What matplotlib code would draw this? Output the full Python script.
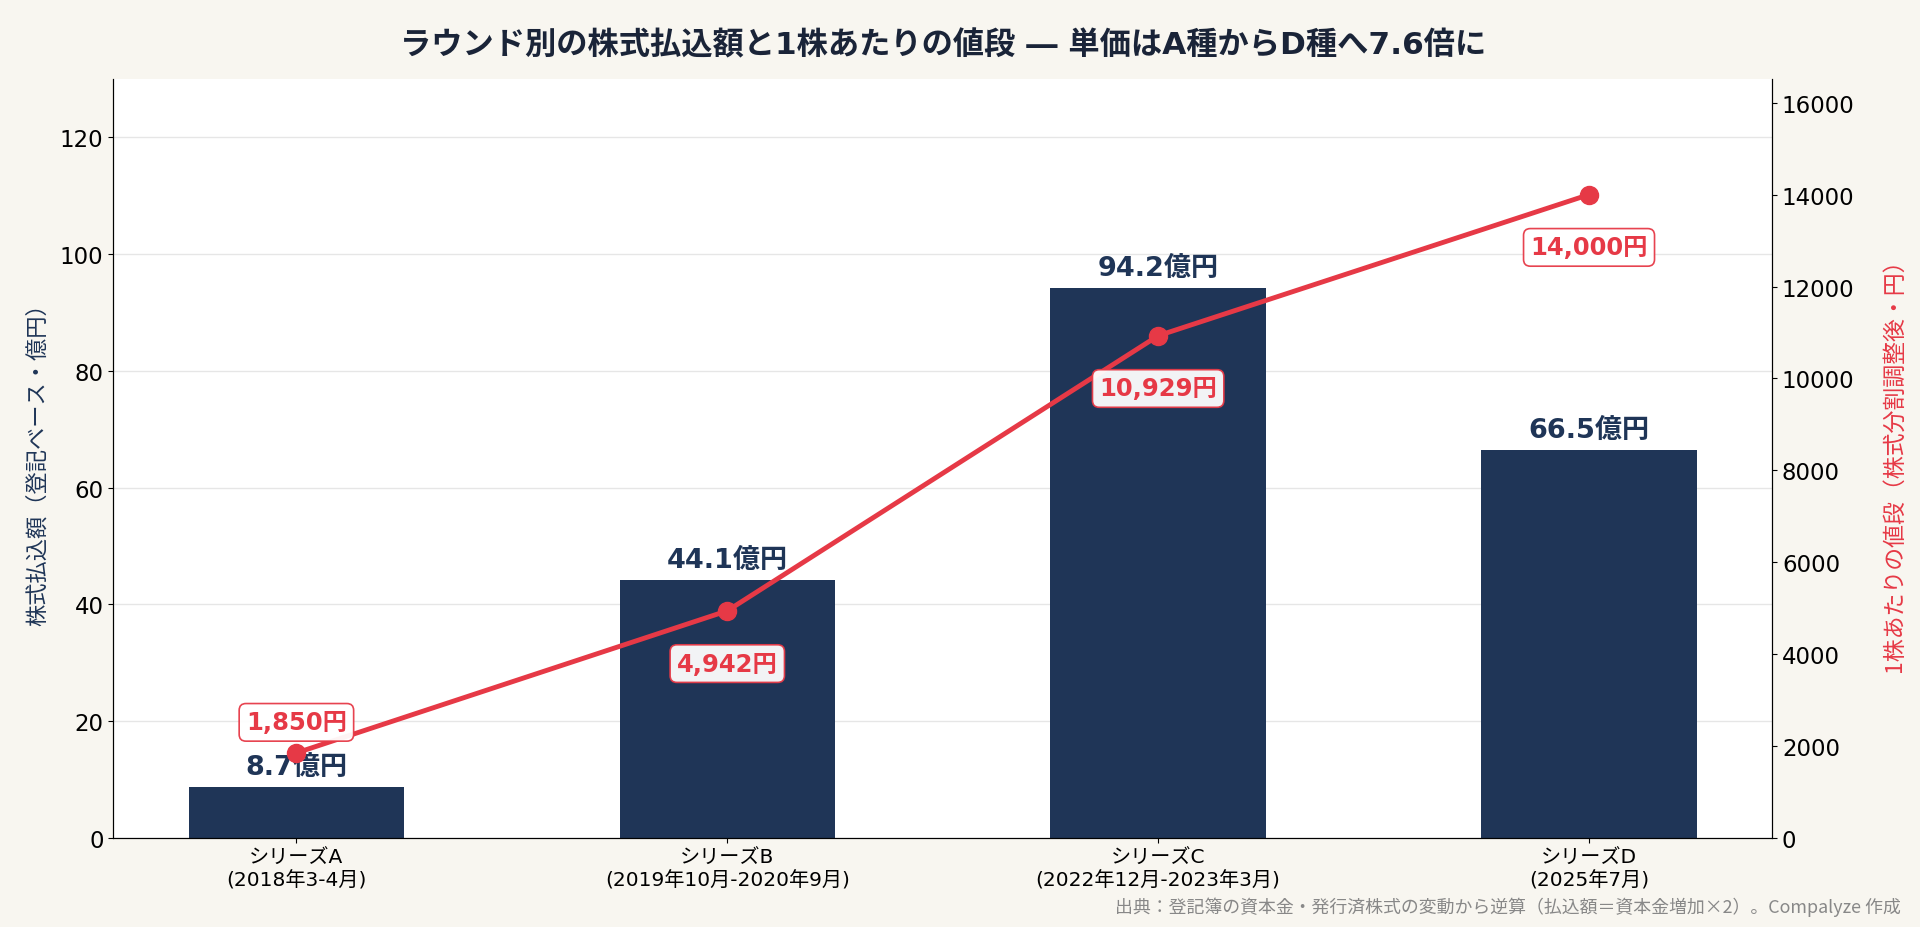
import matplotlib
matplotlib.use('Agg')
import matplotlib.pyplot as plt
import numpy as np

# wide Latin digits first, CJK glyphs fall back to Noto
plt.rcParams['font.family'] = ['DejaVu Sans', 'Noto Sans CJK JP']

ROUNDS = ['シリーズA\n(2018年3-4月)', 'シリーズB\n(2019年10月-2020年9月)',
          'シリーズC\n(2022年12月-2023年3月)', 'シリーズD\n(2025年7月)']
AMOUNTS = [8.7, 44.1, 94.2, 66.5]          # 億円
PRICES = [1850, 4942, 10929, 14000]        # 円 (分割調整後)

NAVY = '#1f3557'
RED = '#e63946'
BG = '#f8f6f0'

fig, ax = plt.subplots(figsize=(19.2, 9.28), dpi=100)
fig.patch.set_facecolor(BG)
ax.set_facecolor('white')
fig.subplots_adjust(left=0.059, right=0.923, top=0.914, bottom=0.096)

x = np.arange(len(ROUNDS))
ax.bar(x, AMOUNTS, width=0.5, color=NAVY, zorder=2)
ax.set_ylim(0, 130)
ax.set_xticks(x)
ax.set_xticklabels(ROUNDS, fontsize=14.5)
ax.tick_params(axis='y', labelsize=16.5)
ax.set_ylabel('株式払込額（登記ベース・億円）', color=NAVY, fontsize=16, labelpad=8,
              family=['Noto Sans CJK JP'])
ax.yaxis.grid(True, color='#e6e6e6', linewidth=1, zorder=0)
ax.set_axisbelow(True)
ax.spines['top'].set_visible(False)

for xi, v in zip(x, AMOUNTS):
    ax.annotate(f'{v}億円', (xi, v), xytext=(0, 5), textcoords='offset points',
                ha='center', va='bottom', fontsize=19.5, fontweight='bold', color=NAVY)

ax2 = ax.twinx()
ax2.plot(x, PRICES, color=RED, linewidth=3.5, marker='o', markersize=13, zorder=3)
ax2.set_ylim(0, max(PRICES) * 1.18)
ax2.set_ylabel('1株あたりの値段（株式分割調整後・円）', color=RED, fontsize=16.5, labelpad=20,
               family=['Noto Sans CJK JP'])
ax2.tick_params(axis='y', labelsize=16.5)
ax2.spines['top'].set_visible(False)

offsets = [22, -38, -38, -38]
for xi, p, dy in zip(x, PRICES, offsets):
    ax2.annotate(f'{p:,}円', (xi, p), xytext=(0, dy), textcoords='offset points',
                 ha='center', va='center', fontsize=17.5, fontweight='bold', color=RED,
                 bbox=dict(boxstyle='round,pad=0.28', facecolor='white', edgecolor=RED,
                           linewidth=1.2, alpha=0.95), zorder=4)

ax.set_title('ラウンド別の株式払込額と1株あたりの値段 ― 単価はA種からD種へ7.6倍に',
             fontsize=22.5, fontweight='bold', color='#1a2438', pad=18)
fig.text(0.99, 0.012, '出典：登記簿の資本金・発行済株式の変動から逆算（払込額＝資本金増加×2）。Compalyze 作成',
         ha='right', va='bottom', fontsize=12.9, color='#888888', family=['Noto Sans CJK JP'])

fig.savefig('out.png', dpi=100, facecolor=BG)
